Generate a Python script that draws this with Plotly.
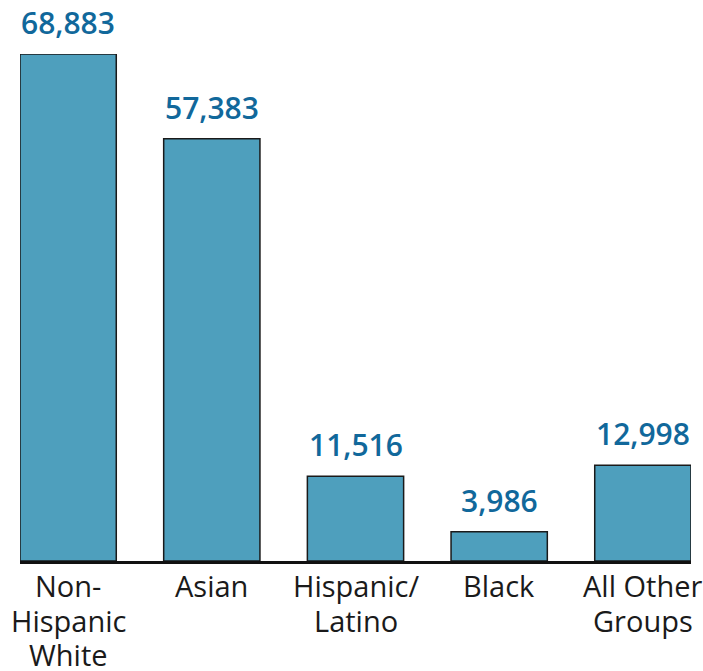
import plotly.graph_objects as go

categories = ["Non-Hispanic White", "Asian", "Hispanic/Latino", "Black", "All Other Groups"]
tick_label_lines = [["Non-", "Hispanic", "White"], ["Asian"], ["Hispanic/", "Latino"], ["Black"], ["All Other", "Groups"]]
values = [68883, 57383, 11516, 3986, 12998]
value_labels = ["68,883", "57,383", "11,516", "3,986", "12,998"]

fig = go.Figure(go.Bar(
    x=categories,
    y=values,
    cliponaxis=False,
    marker=dict(color="#4e9fbd", line=dict(color="#1a1a1a", width=1.5)),
    width=0.67,
))

for c, v, t in zip(categories, values, value_labels):
    fig.add_annotation(
        x=c, y=v, text=t, showarrow=False, yanchor="bottom", yshift=9,
        font=dict(family="Open Sans", size=30, color="#11689b", weight=600),
    )

for c, lines in zip(categories, tick_label_lines):
    for i, line in enumerate(lines):
        fig.add_annotation(
            x=c, y=0, text=line, showarrow=False, yanchor="top",
            yshift=-(3 + 34.5 * i),
            font=dict(family="Open Sans", size=29, color="#1a1a1a"),
        )

fig.update_layout(
    width=703, height=671,
    margin=dict(l=20, r=12, t=54, b=110),
    plot_bgcolor="white", paper_bgcolor="white",
    showlegend=False,
    font=dict(family="Open Sans", size=29, color="#1a1a1a"),
)
fig.update_xaxes(
    range=[-0.335, 4.335],
    automargin=False,
    showline=True, linecolor="#111111", linewidth=2.5,
    ticks="", showgrid=False, showticklabels=False,
)
fig.update_yaxes(range=[0, 68883], visible=False, showgrid=False, automargin=False)

fig.write_html(
    "out.html",
    config={"displayModeBar": False},
    post_script="document.body.style.margin='0';document.body.style.overflow='hidden';",
)
